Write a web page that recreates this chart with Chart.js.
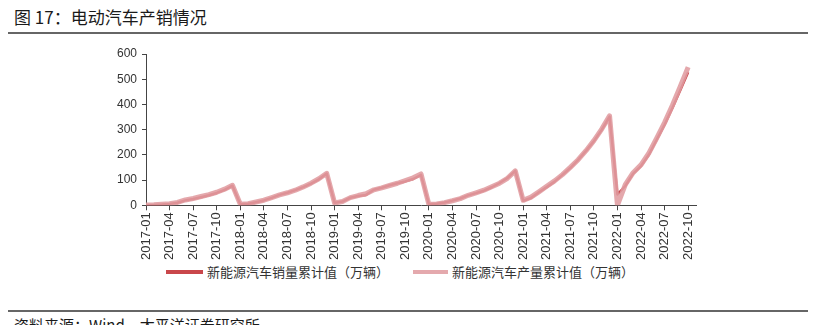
<!DOCTYPE html>
<html>
<head>
<meta charset="utf-8">
<script src="https://cdn.jsdelivr.net/npm/chart.js@4.4.0/dist/chart.umd.min.js"></script>
<style>
  body { margin: 0; background: #fff; width: 831px; height: 325px; overflow: hidden; position: relative; }
  .title { position: absolute; left: 14px; top: 8px; font: 17px/1 "Noto Sans CJK SC", sans-serif; color: #1a1a1a; }
  .rule { position: absolute; left: 8px; width: 800px; height: 2px; background: #666; }
  .source { position: absolute; left: 14px; top: 317px; font: 15px/1 "Noto Sans CJK SC", sans-serif; color: #1a1a1a; white-space: nowrap; }
  #chart { position: absolute; left: 0; top: 36px; }
  #legend { position: absolute; left: 0; top: 263px; width: 800px; display: flex; justify-content: center; gap: 24px;
            font: 13px/18px "Noto Sans CJK SC", sans-serif; color: #333; }
  #legend .item { display: flex; align-items: center; gap: 4px; }
  #legend .swatch { height: 4px; }
</style>
</head>
<body>
<div class="title">图 17：电动汽车产销情况</div>
<div class="rule" style="top:32px"></div>
<canvas id="chart" width="810" height="226"></canvas>
<div id="legend"></div>
<div class="rule" style="top:310px"></div>
<div class="source">资料来源：Wind，太平洋证券研究所</div>

<script>
// 月份 2017-01 ~ 2022-11（最后一个月暂无数据）
const years = [2017, 2018, 2019, 2020, 2021, 2022];
const months = ["01", "02", "03", "04", "05", "06", "07", "08", "09", "10", "11", "12"];
const categories = [];
years.forEach(y => months.forEach(m => {
    if (y === 2022 && Number(m) > 11) return;
    categories.push(y + "-" + m);
}));

// 新能源汽车销量累计值（万辆）
const sales2017 = [0.6, 1.5, 3.1, 5.6, 10.2, 19.5, 24.9, 32.0, 39.8, 49.0, 60.9, 77.7];
const sales2018 = [3.8, 5.8, 12.4, 19.3, 29.5, 41.2, 49.6, 60.1, 72.1, 86.0, 103.0, 125.6];
const sales2019 = [9.6, 15.0, 29.9, 36.8, 41.2, 61.7, 69.8, 79.3, 87.2, 94.7, 104.3, 120.6];
const sales2020 = [4.4, 5.7, 11.4, 18.6, 26.8, 39.3, 48.1, 57.9, 71.6, 88.4, 108.4, 136.7];
const sales2021 = [17.9, 28.9, 51.5, 72.1, 93.8, 120.6, 147.8, 179.9, 215.7, 254.2, 299.0, 352.1];
const sales2022 = [43.1, 76.5, 125.7, 155.6, 200.3, 260.0, 319.4, 386.0, 456.7, 528.0, null];

// 新能源汽车产量累计值（万辆）
const prod2017 = [0.7, 2.0, 4.0, 6.4, 11.2, 21.2, 27.0, 34.9, 42.4, 51.7, 63.9, 79.4];
const prod2018 = [4.1, 6.1, 13.1, 20.2, 30.8, 41.3, 49.6, 59.7, 73.0, 87.8, 105.4, 127.0];
const prod2019 = [9.1, 14.8, 30.4, 38.6, 45.8, 61.4, 69.1, 78.5, 87.4, 98.3, 109.0, 124.2];
const prod2020 = [4.1, 5.2, 10.5, 18.0, 26.4, 39.7, 49.7, 59.9, 73.9, 87.7, 107.0, 136.6];
const prod2021 = [19.7, 32.2, 53.3, 75.3, 96.9, 121.5, 150.4, 180.7, 216.6, 256.6, 302.3, 354.5];
const prod2022 = [0, 82.1, 129.3, 160.5, 207.1, 266.1, 327.9, 397.0, 471.7, 548.0, null];

const sales = [...sales2017, ...sales2018, ...sales2019, ...sales2020, ...sales2021, ...sales2022];
const prod = [...prod2017, ...prod2018, ...prod2019, ...prod2020, ...prod2021, ...prod2022];

const yTicks = [0, 100, 200, 300, 400, 500, 600];

const SALES_COLOR = "#c9474b";
const PROD_COLOR = "rgba(224,156,161,0.88)";
const PROD_SWATCH = "#e4a9ad";
const AXIS_COLOR = "#444";
const TEXT_COLOR = "#333";
const AXIS_FONT = "'Liberation Sans', Arial, sans-serif";

const datasets = [{
    label: "新能源汽车销量累计值（万辆）",
    data: sales,
    borderColor: SALES_COLOR,
    swatch: SALES_COLOR,
    swatchWidth: 37,
    borderWidth: 2.5,
    pointRadius: 0,
    tension: 0,
    borderJoinStyle: "round",
    order: 1
}, {
    label: "新能源汽车产量累计值（万辆）",
    data: prod,
    borderColor: PROD_COLOR,
    swatch: PROD_SWATCH,
    swatchWidth: 35,
    borderWidth: 5,
    pointRadius: 0,
    tension: 0,
    borderJoinStyle: "round",
    order: 0
}];

const ctx = document.getElementById("chart").getContext("2d");
new Chart(ctx, {
    type: "line",
    data: { labels: categories, datasets: datasets },
    options: {
        responsive: false,
        animation: false,
        devicePixelRatio: 1,
        layout: { padding: { left: 112, right: 114, top: 18, bottom: 0 } },
        plugins: {
            tooltip: { enabled: false },
            legend: { display: false }
        },
        scales: {
            x: {
                offset: false,
                border: { color: AXIS_COLOR, width: 1 },
                grid: { drawOnChartArea: false, drawTicks: true, tickLength: 5, color: AXIS_COLOR },
                ticks: {
                    autoSkip: false,
                    minRotation: 90,
                    maxRotation: 90,
                    padding: 2,
                    color: TEXT_COLOR,
                    font: { family: AXIS_FONT, size: 13 },
                    callback: (v, i) => (i % 3 === 0 && i < 70) ? categories[i] : null
                }
            },
            y: {
                min: 0,
                max: 600,
                afterBuildTicks: (axis) => { axis.ticks = yTicks.map(v => ({ value: v })); },
                border: { color: AXIS_COLOR, width: 1 },
                grid: { drawOnChartArea: false, drawTicks: true, tickLength: 4, color: AXIS_COLOR },
                ticks: {
                    padding: 5,
                    color: TEXT_COLOR,
                    font: { family: AXIS_FONT, size: 12 }
                }
            }
        }
    }
});

// 图例
const legendEl = document.getElementById("legend");
datasets.forEach(ds => {
    const item = document.createElement("div");
    item.className = "item";
    const sw = document.createElement("span");
    sw.className = "swatch";
    sw.style.width = ds.swatchWidth + "px";
    sw.style.background = ds.swatch;
    const txt = document.createElement("span");
    txt.textContent = ds.label;
    item.appendChild(sw);
    item.appendChild(txt);
    legendEl.appendChild(item);
});
</script>
</body>
</html>
